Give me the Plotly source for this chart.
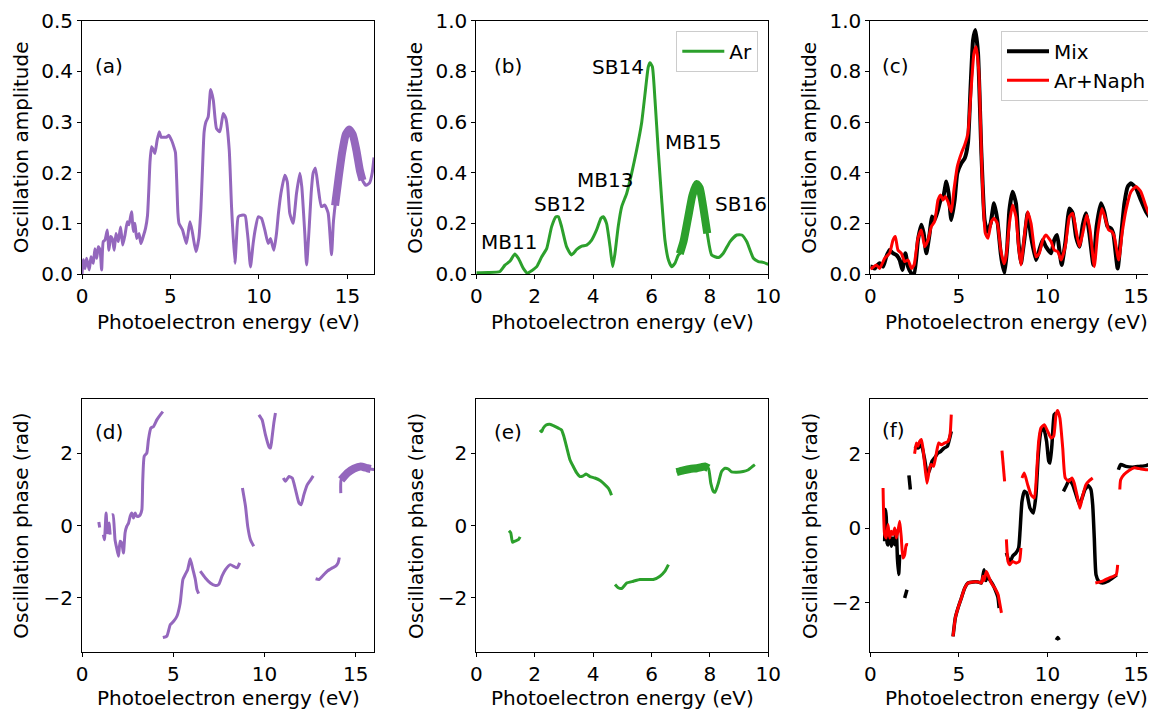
import plotly.graph_objects as go

# ---------------- data ----------------
# (a) amplitude, purple
a_energy = [0.0, 0.08, 0.17, 0.26, 0.41, 0.51, 0.64, 0.73, 0.83, 0.92, 1.02, 1.11, 1.2, 1.3, 1.43, 1.52, 1.62, 1.71,
            1.82, 1.92, 2.05, 2.18, 2.3, 2.43, 2.56, 2.65, 2.8, 2.9, 2.99, 3.09, 3.22, 3.33, 3.46, 3.59, 3.7, 3.78,
            3.84, 3.93, 4.03, 4.12, 4.25, 4.37, 4.47, 4.6, 4.78, 4.9, 5.06, 5.2, 5.28, 5.35, 5.42, 5.48, 5.68, 5.9,
            6.1, 6.23, 6.44, 6.6, 6.72, 6.8, 6.9, 7.0, 7.13, 7.27, 7.42, 7.6, 7.79, 7.98, 8.13, 8.32, 8.45, 8.64,
            8.73, 8.83, 9.02, 9.22, 9.32, 9.39, 9.52, 9.67, 9.8, 9.96, 10.14, 10.33, 10.52, 10.65, 10.84, 10.99,
            11.1, 11.24, 11.46, 11.6, 11.74, 11.93, 12.12, 12.31, 12.42, 12.59, 12.69, 12.84, 12.95, 13.06, 13.19,
            13.34, 13.53, 13.72, 13.91, 14.1, 14.2, 14.3, 14.5, 14.7, 14.9, 15.1, 15.3, 15.5, 15.7, 15.85, 16.05,
            16.25, 16.4, 16.5]
a_amp = [0.0, 0.028, 0.011, 0.031, 0.008, 0.034, 0.021, 0.05, 0.031, 0.054, 0.047, 0.008, 0.064, 0.067, 0.087, 0.047,
         0.074, 0.07, 0.047, 0.08, 0.064, 0.093, 0.057, 0.077, 0.103, 0.097, 0.123, 0.084, 0.1, 0.07, 0.08, 0.06,
         0.074, 0.09, 0.115, 0.17, 0.22, 0.251, 0.245, 0.238, 0.265, 0.281, 0.27, 0.27, 0.27, 0.274, 0.264, 0.25,
         0.24, 0.186, 0.12, 0.1, 0.087, 0.06, 0.103, 0.084, 0.044, 0.07, 0.13, 0.2, 0.28, 0.3, 0.31, 0.364, 0.343,
         0.287, 0.281, 0.317, 0.307, 0.245, 0.133, 0.021, 0.07, 0.113, 0.116, 0.115, 0.09, 0.067, 0.014, 0.06, 0.09,
         0.113, 0.11, 0.087, 0.06, 0.07, 0.047, 0.08, 0.12, 0.159, 0.195, 0.182, 0.12, 0.1, 0.159, 0.199, 0.172,
         0.08, 0.018, 0.093, 0.16, 0.199, 0.209, 0.172, 0.133, 0.136, 0.12, 0.038, 0.1, 0.135, 0.19, 0.24, 0.275,
         0.285, 0.275, 0.245, 0.205, 0.185, 0.175, 0.18, 0.2, 0.23]
a_hl_energy = [14.3, 14.5, 14.7, 14.9, 15.1, 15.3, 15.5, 15.7, 15.85]
a_hl_amp = [0.135, 0.19, 0.24, 0.275, 0.285, 0.275, 0.245, 0.205, 0.185]

# (b) amplitude, Ar
b_energy = [0.0, 0.4, 0.81, 0.98, 1.15, 1.32, 1.44, 1.61, 1.75, 1.9, 2.07, 2.24, 2.41, 2.58, 2.73, 2.81, 2.92, 3.09,
            3.26, 3.44, 3.61, 3.78, 3.95, 4.12, 4.27, 4.35, 4.46, 4.58, 4.67, 4.75, 4.86, 4.98, 5.15, 5.32, 5.49,
            5.66, 5.78, 5.89, 5.95, 6.03, 6.12, 6.23, 6.35, 6.46, 6.58, 6.69, 6.8, 6.92, 6.97, 7.1, 7.25, 7.4, 7.55,
            7.65, 7.75, 7.91, 8.06, 8.29, 8.46, 8.69, 8.92, 9.09, 9.26, 9.49, 9.66, 9.83, 10.0]
b_amp = [0.005, 0.006, 0.01, 0.035, 0.05, 0.079, 0.062, 0.022, 0.003, 0.013, 0.029, 0.068, 0.1, 0.187, 0.226, 0.226,
         0.187, 0.108, 0.075, 0.097, 0.11, 0.114, 0.134, 0.174, 0.22, 0.226, 0.2, 0.108, 0.029, 0.082, 0.187, 0.266,
         0.318, 0.397, 0.489, 0.595, 0.713, 0.818, 0.834, 0.818, 0.687, 0.489, 0.292, 0.134, 0.055, 0.029, 0.042,
         0.075, 0.08, 0.13, 0.22, 0.31, 0.355, 0.34, 0.28, 0.16, 0.075, 0.065, 0.082, 0.128, 0.154, 0.154, 0.128,
         0.062, 0.049, 0.046, 0.038]
b_hl_energy = [6.97, 7.1, 7.25, 7.4, 7.55, 7.65, 7.75, 7.91]
b_hl_amp = [0.08, 0.13, 0.22, 0.31, 0.355, 0.34, 0.28, 0.16]
b_labels = ["MB11", "SB12", "MB13", "SB14", "MB15", "SB16"]
b_label_x = [1.12, 2.86, 4.41, 4.85, 7.42, 9.05]
b_label_y = [0.127, 0.276, 0.371, 0.818, 0.522, 0.276]

# (c) amplitude, Mix and Ar+Naph
c_mix_energy = [0.0, 0.06, 0.25, 0.4, 0.53, 0.72, 0.9, 1.09, 1.28, 1.47, 1.66, 1.81, 1.98, 2.13, 2.32, 2.47, 2.69,
                2.88, 3.01, 3.16, 3.35, 3.48, 3.63, 3.82, 3.97, 4.1, 4.29, 4.42, 4.57, 4.76, 4.91, 5.14, 5.33, 5.51,
                5.66, 5.8, 5.93, 6.08, 6.27, 6.45, 6.6, 6.79, 6.98, 7.17, 7.36, 7.45, 7.58, 7.72, 7.85, 8.03, 8.22,
                8.37, 8.5, 8.69, 8.88, 9.07, 9.35, 9.54, 9.73, 9.91, 10.2, 10.38, 10.54, 10.67, 10.8, 11.0, 11.24,
                11.42, 11.61, 11.8, 11.99, 12.17, 12.36, 12.59, 12.77, 13.02, 13.2, 13.39, 13.58, 13.71, 13.96,
                14.15, 14.34, 14.53, 14.71, 15.0, 15.27, 15.56, 15.84, 16.12, 16.5]
c_mix_amp = [0.03, 0.029, 0.022, 0.035, 0.042, 0.029, 0.068, 0.095, 0.082, 0.075, 0.055, 0.016, 0.082, 0.029, 0.003,
             0.0, 0.134, 0.194, 0.161, 0.082, 0.161, 0.227, 0.213, 0.253, 0.292, 0.299, 0.365, 0.319, 0.213, 0.292,
             0.398, 0.438, 0.457, 0.517, 0.74, 0.924, 0.963, 0.871, 0.476, 0.213, 0.167, 0.2, 0.279, 0.213, 0.082,
             0.04, 0.005, 0.1, 0.253, 0.325, 0.279, 0.121, 0.042, 0.134, 0.24, 0.147, 0.055, 0.095, 0.134, 0.108,
             0.082, 0.134, 0.154, 0.095, 0.036, 0.121, 0.259, 0.24, 0.147, 0.108, 0.194, 0.24, 0.161, 0.036, 0.187,
             0.279, 0.246, 0.187, 0.18, 0.161, 0.022, 0.147, 0.279, 0.345, 0.358, 0.338, 0.292, 0.246, 0.22, 0.213,
             0.22]
c_naph_energy = [0.0, 0.06, 0.34, 0.53, 0.81, 1.09, 1.28, 1.41, 1.56, 1.75, 1.94, 2.13, 2.32, 2.47, 2.69, 2.88, 3.07,
                 3.26, 3.44, 3.63, 3.82, 3.97, 4.1, 4.23, 4.38, 4.57, 4.72, 4.91, 5.14, 5.33, 5.51, 5.7, 5.85, 5.97,
                 6.12, 6.3, 6.49, 6.64, 6.83, 6.98, 7.17, 7.36, 7.55, 7.66, 7.85, 8.03, 8.22, 8.37, 8.5, 8.69, 8.88,
                 9.07, 9.35, 9.54, 9.73, 9.91, 10.2, 10.38, 10.58, 10.77, 11.0, 11.24, 11.42, 11.61, 11.8, 11.99,
                 12.21, 12.4, 12.64, 12.83, 13.07, 13.26, 13.45, 13.64, 13.77, 14.02, 14.21, 14.43, 14.71, 15.0,
                 15.27, 15.56, 15.84, 16.12, 16.5]
c_naph_amp = [0.02, 0.022, 0.036, 0.022, 0.062, 0.082, 0.134, 0.148, 0.095, 0.082, 0.049, 0.055, 0.022, 0.036, 0.141,
              0.174, 0.108, 0.134, 0.187, 0.207, 0.292, 0.312, 0.292, 0.306, 0.286, 0.246, 0.332, 0.424, 0.477, 0.51,
              0.556, 0.74, 0.871, 0.897, 0.805, 0.41, 0.161, 0.141, 0.207, 0.22, 0.2, 0.095, 0.04, 0.068, 0.2, 0.272,
              0.226, 0.108, 0.036, 0.147, 0.246, 0.2, 0.068, 0.082, 0.134, 0.154, 0.128, 0.095, 0.088, 0.055, 0.108,
              0.226, 0.24, 0.174, 0.108, 0.161, 0.233, 0.174, 0.029, 0.161, 0.259, 0.22, 0.174, 0.167, 0.147, 0.055,
              0.161, 0.253, 0.325, 0.345, 0.325, 0.266, 0.22, 0.213, 0.22]

# (d) phase, purple (None = break between branches)
d_energy = [0.92, 0.97, None,
            1.17, 1.23, 1.32, 1.39, 1.48, 1.54, None,
            1.63, 1.7, 1.81, 1.9, 2.0, 2.09, 2.18, 2.27, 2.36, 2.45, 2.55, 2.64, 2.73, 2.82, 2.91, 3.0, 3.1, 3.19,
            3.28, 3.33, 3.41, 3.55, 3.64, 3.77, 3.92, 4.1, 4.29, 4.43, None,
            4.43, 4.65, 4.84, 5.02, 5.2, 5.38, 5.53, 5.66, 5.79, 5.93, 6.08, 6.21, 6.3, 6.39, None,
            6.48, 6.76, 7.03, 7.31, 7.49, 7.67, 7.86, 8.13, 8.32, 8.5, 8.64, None,
            8.79, 8.96, 9.08, 9.23, 9.41, None,
            9.69, 9.87, 10.05, 10.24, 10.33, 10.42, 10.51, 10.6, None,
            11.03, 11.15, 11.34, 11.52, 11.7, 11.89, 12.01, 12.16, 12.34, 12.53, 12.67, None,
            12.8, 12.99, 13.17, 13.44, 13.72, 13.9, 14.03, 14.1, None,
            14.18, 14.2, 14.54, 14.9, 15.27, 15.64, 15.82, 16.04]
d_phase = [0.1, -0.05, None,
           -0.25, -0.39, 0.35, -0.2, 0.07, -0.25, None,
           0.3, 0.3, -0.39, -0.62, -0.85, -0.43, -0.48, -0.76, -0.2, -0.02, 0.07, 0.26, 0.35, 0.21, 0.35, 0.26, 0.26,
           0.3, 0.44, 1.27, 1.92, 2.01, 2.38, 2.7, 2.75, 2.93, 3.07, 3.16, None,
           -3.1, -3.06, -2.74, -2.65, -2.51, -2.14, -1.49, -1.35, -1.22, -0.92, -1.22, -1.49, -1.77, -1.88, None,
           -1.26, -1.45, -1.59, -1.66, -1.63, -1.4, -1.22, -1.08, -1.13, -1.17, -1.03, None,
           1.04, 0.53, -0.02, -0.39, -0.57, None,
           3.07, 2.93, 2.52, 2.19, 2.15, 2.47, 2.84, 3.12, None,
           1.32, 1.23, 1.36, 1.32, 1.0, 0.63, 0.58, 0.86, 1.13, 1.27, 1.38, None,
           -1.47, -1.49, -1.4, -1.26, -1.17, -1.12, -1.03, -0.88, None,
           0.9, 1.27, 1.46, 1.58, 1.64, 1.59, 1.57, 1.55]
d_hl_energy = [14.2, 14.54, 14.9, 15.27, 15.64, 15.82]
d_hl_phase = [1.27, 1.46, 1.58, 1.64, 1.59, 1.57]

# (e) phase, Ar
e_energy = [1.12, 1.18, 1.24, 1.32, 1.44, 1.5, None,
            2.18, 2.24, 2.29, 2.39, 2.52, 2.69, 2.81, 2.92, 3.0, 3.09, 3.21, 3.32, 3.44, 3.55, 3.66, 3.76, 3.89,
            4.06, 4.24, 4.41, 4.52, 4.58, 4.63, None,
            4.75, 4.86, 4.98, 5.15, 5.38, 5.6, 5.83, 6.06, 6.29, 6.46, 6.58, None,
            6.86, 7.09, 7.32, 7.55, 7.72, 7.83, 7.95, 8.03, 8.12, 8.18, 8.29, 8.4, 8.52, 8.63, 8.74, 8.92, 9.14,
            9.32, 9.49, 9.54]
e_phase = [-0.14, -0.2, -0.46, -0.43, -0.39, -0.31, None,
           2.65, 2.6, 2.7, 2.79, 2.81, 2.75, 2.7, 2.65, 2.47, 2.19, 1.82, 1.64, 1.46, 1.36, 1.38, 1.43, 1.36, 1.32,
           1.25, 1.13, 1.04, 0.95, 0.84, None,
           -1.63, -1.72, -1.74, -1.59, -1.54, -1.49, -1.49, -1.49, -1.4, -1.26, -1.08, None,
           1.48, 1.53, 1.57, 1.59, 1.62, 1.64, 1.59, 1.18, 0.95, 0.93, 1.18, 1.5, 1.59, 1.57, 1.49, 1.48, 1.5,
           1.55, 1.66, 1.69]
e_hl_energy = [6.86, 7.09, 7.32, 7.55, 7.72, 7.83, 7.95]
e_hl_phase = [1.48, 1.53, 1.57, 1.59, 1.62, 1.64, 1.59]

# (f) phase, Mix and Ar+Naph
f_mix_energy = [0.81, 0.86, 0.9, 0.95, 1.0, 1.09, 1.19, 1.28, 1.38, 1.47, 1.53, 1.6, 1.66, None,
                1.94, 2.07, None,
                2.18, 2.26, None,
                2.5, 2.69, 2.88, 3.07, 3.22, 3.35, 3.48, 3.63, 3.82, 3.97, 4.16, 4.35, 4.48, 4.57, None,
                4.67, 4.8, 4.95, 5.14, 5.33, 5.51, 5.8, 6.08, 6.27, 6.42, 6.52, 6.6, 6.74, 6.9, 7.05, 7.2, 7.27, None,
                7.68, 7.87, 8.03, 8.22, 8.37, 8.45, 8.56, 8.69, 8.82, 9.01, 9.2, 9.35, 9.48, 9.63, 9.78, 9.95,
                10.07, 10.14, 10.25, 10.38, 10.48, None,
                10.5, 10.58, 10.66, None,
                10.9, 11.04, 11.24, 11.42, 11.61, 11.8, 11.95, 12.12, 12.3, 12.45, 12.55, 12.64, 12.74, 12.89,
                13.11, 13.4, 13.68, 13.91, None,
                14.0, 14.13, 14.42, 14.8, 15.18, 15.56, 15.84, 16.12, 16.5]
f_mix_phase = [-0.35, 0.5, 0.3, -0.4, -0.45, -0.17, -0.48, -0.26, -0.44, -0.08, -0.8, -1.24, -0.71, None,
               -1.87, -1.65, None,
               1.42, 1.04, None,
               2.2, 2.15, 2.24, 1.84, 1.44, 1.57, 1.8, 1.89, 2.02, 2.06, 2.15, 2.2, 2.42, 2.6, None,
               -2.9, -2.4, -2.14, -1.87, -1.6, -1.47, -1.44, -1.44, -1.47, -1.11, -1.4, -1.3, -1.38, -1.5, -1.65,
               -1.85, -2.14, None,
               -0.66, -0.93, -0.75, -0.66, -0.53, -0.08, 0.72, 0.99, 0.95, 0.54, 0.41, 0.9, 1.97, 2.6, 2.69, 2.33,
               1.8, 1.75, 2.24, 3.05, 3.1, None,
               -3.0, -2.93, -3.0, None,
               0.99, 1.12, 1.3, 1.17, 0.9, 0.63, 0.81, 1.04, 1.15, 1.04, 0.63, -0.26, -1.25, -1.42, -1.47, -1.42,
               -1.33, -1.25, None,
               1.57, 1.71, 1.66, 1.64, 1.66, 1.68, 1.73, 1.66, 1.65]
f_naph_energy = [0.72, 0.81, 0.9, 1.0, 1.09, 1.19, 1.28, 1.38, 1.47, 1.56, 1.66, 1.75, 1.84, 1.94, 2.03, 2.13, None,
                 2.5, 2.6, 2.69, 2.78, 2.88, 2.97, 3.07, 3.2, 3.35, 3.44, 3.57, 3.73, 3.86, 4.01, 4.2, 4.38, 4.5,
                 4.57, None,
                 4.67, 4.8, 4.95, 5.14, 5.33, 5.51, 5.8, 6.08, 6.27, 6.36, 6.42, 6.55, 6.64, 6.83, 7.02, 7.21, 7.3,
                 7.4, None,
                 7.43, 7.58, None,
                 7.68, 7.77, 7.87, 8.03, 8.22, 8.41, 8.5, None,
                 8.56, 8.69, 8.88, 9.07, 9.26, 9.39, 9.5, 9.63, 9.82, 10.01, 10.2, 10.35, 10.48, 10.57, 10.7, 10.86,
                 11.0, 11.2, 11.38, 11.51, 11.7, 11.83, 11.98, 12.17, 12.36, 12.55, None,
                 12.7, 13.11, 13.49, 13.87, 13.96, None,
                 14.08, 14.13, 14.32, 14.6, 14.89, 15.18, 15.56, 16.12, 16.5]
f_naph_phase = [1.08, -0.17, -0.26, 0.1, -0.26, -0.08, -0.17, 0.01, -0.26, -0.08, 0.19, -0.26, -0.8, -0.71, -0.44,
                -0.44, None,
                2.0, 2.29, 2.2, 2.33, 2.38, 2.15, 1.71, 1.21, 1.62, 1.71, 1.66, 2.02, 2.29, 2.24, 2.29, 2.33, 2.51,
                3.05, None,
                -2.9, -2.4, -2.14, -1.87, -1.6, -1.47, -1.44, -1.44, -1.47, -1.29, -1.4, -1.16, -1.25, -1.47, -1.6,
                -1.78, -2.0, -2.27, None,
                2.08, 1.26, None,
                -0.3, -0.89, -0.98, -0.89, -0.93, -0.89, -0.53, None,
                1.35, 1.48, 1.17, 0.9, 0.81, 1.52, 2.33, 2.69, 2.78, 2.6, 2.42, 2.47, 3.05, 3.16, 2.96, 2.15, 1.35,
                1.26, 1.35, 1.21, 0.81, 0.54, 0.86, 1.17, 1.28, 1.35, None,
                -1.47, -1.42, -1.33, -1.25, -0.98, None,
                1.04, 1.3, 1.44, 1.55, 1.62, 1.6, 1.57, 1.57, 1.57]

panel_tags = ["(a)", "(b)", "(c)", "(d)", "(e)", "(f)"]
x_title = "Photoelectron energy (eV)"
amp_title = "Oscillation amplitude"
phase_title = "Oscillation phase (rad)"

# ---------------- styling ----------------
PURPLE = "#9467bd"
GREEN = "#2ca02c"
FONT = "DejaVu Sans"
FS = 20
VW, VH = 1156, 710          # browser window
OFF = 8                      # default page margin of the html body
W, H = VW - OFF, VH - OFF    # figure size so that it ends at the window edge

fig = go.Figure()

def line(x, y, color, width, xa, ya, name=None, legend=None, show=False):
    fig.add_trace(go.Scatter(x=x, y=y, mode="lines", line=dict(color=color, width=width, shape="spline", smoothing=0.5),
                             xaxis=xa, yaxis=ya, name=name, showlegend=show, legend=legend,
                             connectgaps=False, hoverinfo="skip"))

# (a)
line(a_energy, a_amp, PURPLE, 3, "x", "y")
line(a_hl_energy, a_hl_amp, PURPLE, 8, "x", "y")
# (b)
line(b_energy, b_amp, GREEN, 3, "x2", "y2", name="Ar", legend="legend", show=True)
line(b_hl_energy, b_hl_amp, GREEN, 8, "x2", "y2")
# (c)
line(c_mix_energy, c_mix_amp, "black", 4, "x3", "y3", name="Mix", legend="legend2", show=True)
line(c_naph_energy, c_naph_amp, "#ff0000", 3, "x3", "y3", name="Ar+Naph", legend="legend2", show=True)
# (d)
line(d_energy, d_phase, PURPLE, 3, "x4", "y4")
line(d_hl_energy, d_hl_phase, PURPLE, 8, "x4", "y4")
# (e)
line(e_energy, e_phase, GREEN, 3, "x5", "y5")
line(e_hl_energy, e_hl_phase, GREEN, 8, "x5", "y5")
# (f)
line(f_mix_energy, f_mix_phase, "black", 3.5, "x6", "y6")
line(f_naph_energy, f_naph_phase, "#ff0000", 3, "x6", "y6")

# window-pixel layout of the axes boxes (left, right) / (top, bottom)
col_px = [(82, 374), (476.3, 768.3), (870.3, 1156)]
row_px = [(20.7, 274), (399.3, 652)]
xtitle_px = [322, 697.5]

def fx(px):   # window px -> paper fraction
    return (px - OFF) / W

def fy(py):
    return 1 - (py - OFF) / H

ax_common = dict(showline=True, linecolor="black", linewidth=1, ticks="outside", ticklen=4, tickwidth=1,
                 tickcolor="black", showgrid=False, zeroline=False, automargin=False,
                 tickfont=dict(family=FONT, size=FS, color="black"))

x_ranges = [[0, 16.5], [0, 10], [0, (1156 - 870.3) / 17.72], [0, 16], [0, 10], [0, (1156 - 870.3) / 17.72]]
x_ticks = [[0, 5, 10, 15], [0, 2, 4, 6, 8, 10], [0, 5, 10, 15], [0, 5, 10, 15], [0, 2, 4, 6, 8, 10], [0, 5, 10, 15]]
y_ranges = [[0, 0.5], [0, 1.0], [0, 1.0], [-3.5, 3.5], [-3.5, 3.5], [-3.32, 3.46]]
y_ticks = [[0, 0.1, 0.2, 0.3, 0.4, 0.5], [0, 0.2, 0.4, 0.6, 0.8, 1.0], [0, 0.2, 0.4, 0.6, 0.8, 1.0],
           [-2, 0, 2], [-2, 0, 2], [-2, 0, 2]]
y_fmt = [".1f", ".1f", ".1f", "d", "d", "d"]

layout = dict(width=W, height=H, margin=dict(l=0, r=0, t=0, b=0, autoexpand=False),
              plot_bgcolor="white", paper_bgcolor="white",
              font=dict(family=FONT, size=FS, color="black"))
for i in range(6):
    r, c = divmod(i, 3)
    sfx = "" if i == 0 else str(i + 1)
    layout["xaxis" + sfx] = dict(ax_common, domain=[fx(col_px[c][0]), min(1.0, fx(col_px[c][1]))],
                                 range=x_ranges[i], tickvals=x_ticks[i], anchor="y" + sfx, mirror=True)
    layout["yaxis" + sfx] = dict(ax_common, domain=[fy(row_px[r][1]), fy(row_px[r][0])], range=y_ranges[i],
                                 tickvals=y_ticks[i], tickformat=y_fmt[i], anchor="x" + sfx, mirror=(c != 2))

legend_style = dict(xanchor="right", yanchor="top", bgcolor="rgba(255,255,255,0.8)", bordercolor="#cccccc",
                    borderwidth=1, itemwidth=42, font=dict(family=FONT, size=FS, color="black"))
layout["legend"] = dict(legend_style, x=fx(758.3), y=fy(30.7))
layout["legend2"] = dict(legend_style, x=fx(1152), y=fy(30.7))
fig.update_layout(**layout)

annotations = []
# panel tags
tag_pos = [(92.5, 66), (491.7, 66), (880, 66), (92.5, 431.7), (491.7, 431.7), (880, 430)]
for t, (px, py) in zip(panel_tags, tag_pos):
    annotations.append(dict(text=t, x=fx(px), y=fy(py), xref="paper", yref="paper", xanchor="left",
                            yanchor="middle", showarrow=False, font=dict(family=FONT, size=FS, color="black")))
# axis titles
for i in range(6):
    r, c = divmod(i, 3)
    cx = (col_px[c][0] + col_px[c][0] + 292) / 2
    annotations.append(dict(text=x_title, x=fx(cx), y=fy(xtitle_px[r]), xref="paper", yref="paper",
                            xanchor="center", yanchor="middle", showarrow=False,
                            font=dict(family=FONT, size=FS, color="black")))
    ylx = col_px[c][0] - 61
    yly = (row_px[r][0] + row_px[r][1]) / 2
    annotations.append(dict(text=amp_title if r == 0 else phase_title, x=fx(ylx), y=fy(yly), xref="paper",
                            yref="paper", xanchor="center", yanchor="middle", textangle=-90, showarrow=False,
                            font=dict(family=FONT, size=FS, color="black")))
# peak labels in (b)
for t, lx, ly in zip(b_labels, b_label_x, b_label_y):
    annotations.append(dict(text=t, x=lx, y=ly, xref="x2", yref="y2", xanchor="center", yanchor="middle",
                            showarrow=False, font=dict(family=FONT, size=FS, color="black")))
fig.update_layout(annotations=annotations)

fig.write_html("out.html")
